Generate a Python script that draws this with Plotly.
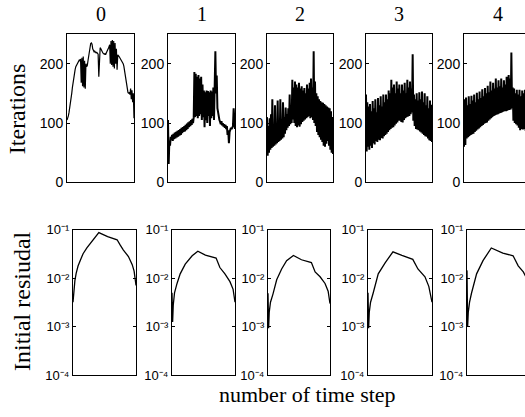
import plotly.graph_objects as go

# ---------------------------------------------------------------- data
panel_titles = ["0", "1", "2", "3", "4"]

# iterations per time step, one list per case
iter_0 = [105, 108, 112, 118, 125, 131, 140, 150, 160, 170,
          178, 185, 190, 195, 197, 200, 203, 205, 206, 205,
          208, 168, 210, 162, 212, 160, 205, 158, 200, 195,
          197, 205, 215, 225, 232, 234, 235, 233, 225, 222,
          220, 221, 220, 218, 219, 218, 216, 178, 220, 227,
          225, 222, 220, 218, 217, 216, 217, 215, 218, 220,
          222, 225, 228, 232, 200, 238, 198, 240, 195, 238,
          192, 235, 200, 225, 190, 215, 214, 212, 210, 208,
          205, 204, 203, 200, 196, 188, 180, 170, 160, 155,
          152, 150, 152, 148, 158, 140, 155, 135, 150, 108]

iter_1 = [105, 31, 70, 62, 77, 72, 80, 70, 82, 73,
          84, 74, 85, 76, 87, 77, 88, 79, 90, 80,
          92, 83, 93, 85, 95, 86, 97, 88, 99, 90,
          101, 93, 103, 95, 105, 97, 107, 100, 110, 186,
          110, 183, 112, 178, 108, 181, 112, 175, 115, 178,
          105, 165, 110, 155, 93, 152, 105, 155, 100, 154,
          112, 152, 95, 155, 108, 153, 112, 160, 105, 165,
          221, 150, 180, 125, 115, 108, 105, 102, 98, 103,
          96, 100, 94, 98, 92, 97, 90, 95, 80, 88,
          66, 85, 88, 92, 90, 93, 95, 125, 100, 90]

iter_2 = [110, 45, 95, 50, 108, 55, 115, 58, 140, 60,
          95, 62, 130, 64, 100, 66, 138, 68, 102, 70,
          140, 72, 105, 74, 135, 76, 110, 82, 126, 88,
          115, 92, 125, 95, 148, 98, 130, 100, 173, 106,
          160, 100, 170, 95, 165, 93, 160, 96, 168, 94,
          158, 98, 162, 102, 155, 104, 159, 106, 150, 108,
          165, 110, 158, 112, 168, 108, 175, 110, 160, 105,
          221, 100, 170, 95, 150, 85, 145, 80, 140, 76,
          137, 72, 135, 68, 134, 62, 132, 60, 130, 65,
          128, 70, 126, 62, 125, 55, 120, 50, 110, 48]

iter_3 = [148, 52, 135, 60, 128, 55, 132, 62, 120, 58,
          137, 66, 125, 64, 140, 70, 118, 68, 142, 72,
          130, 71, 145, 75, 128, 74, 148, 78, 135, 80,
          148, 82, 140, 85, 155, 88, 150, 90, 173, 92,
          160, 93, 165, 96, 150, 99, 170, 101, 158, 104,
          165, 104, 150, 102, 165, 101, 155, 105, 168, 108,
          150, 110, 173, 111, 160, 112, 170, 115, 158, 118,
          216, 104, 148, 95, 140, 90, 150, 89, 138, 88,
          152, 86, 140, 84, 153, 82, 135, 80, 150, 78,
          130, 77, 145, 74, 125, 71, 138, 70, 131, 68]

iter_4 = [60, 140, 63, 143, 74, 130, 76, 145, 78, 132,
          80, 146, 81, 138, 82, 148, 85, 135, 87, 151,
          89, 140, 91, 153, 93, 142, 95, 157, 97, 145,
          99, 159, 100, 150, 101, 163, 104, 152, 106, 170,
          108, 155, 110, 168, 112, 158, 113, 175, 114, 160,
          115, 172, 116, 162, 117, 175, 118, 160, 119, 172,
          120, 165, 120, 178, 121, 168, 181, 122, 175, 123,
          219, 125, 160, 104, 158, 100, 150, 98, 156, 96,
          148, 92, 156, 88, 145, 90, 155, 89, 150, 90,
          156, 87, 148, 86, 152, 85, 145, 84, 150, 85]

iterations = [iter_0, iter_1, iter_2, iter_3, iter_4]

# initial residual, sampled at selected time steps (0..100)
res_steps_0 = [0, 1, 3, 5, 8, 12, 16, 22, 28, 34, 41, 55, 70, 75, 80, 88, 94, 97, 100]
res_vals_0 = [3.2e-3, 5.0e-3, 8.9e-3, 1.26e-2, 1.78e-2, 2.4e-2, 3.2e-2, 4.2e-2, 5.2e-2,
              6.6e-2, 8.7e-2, 7.2e-2, 6.2e-2, 4.8e-2, 3.8e-2, 2.8e-2, 1.9e-2, 1.4e-2, 7.1e-3]

res_steps_1 = [0, 1, 2, 4, 8, 13, 21, 32, 41, 53, 70, 76, 84, 92, 97, 100]
res_vals_1 = [5.0e-3, 1.26e-3, 2.8e-3, 5.0e-3, 7.8e-3, 1.23e-2, 1.95e-2, 2.9e-2,
              3.6e-2, 3.0e-2, 2.6e-2, 1.66e-2, 1.23e-2, 8.5e-3, 5.9e-3, 3.2e-3]

res_steps_2 = [0, 1, 2, 4, 8, 14, 22, 30, 41, 54, 70, 76, 84, 92, 97, 100]
res_vals_2 = [4.9e-3, 9.3e-4, 2.0e-3, 3.2e-3, 4.7e-3, 9.3e-3, 1.55e-2, 2.3e-2,
              2.95e-2, 2.4e-2, 2.1e-2, 1.35e-2, 1.07e-2, 7.8e-3, 5.4e-3, 3.0e-3]

res_steps_3 = [0, 1, 2, 4, 8, 16, 27, 39, 53, 70, 78, 89, 95, 100]
res_vals_3 = [5.0e-3, 9.3e-4, 2.0e-3, 3.2e-3, 4.9e-3, 1.23e-2, 2.1e-2, 3.5e-2,
              2.95e-2, 2.45e-2, 1.55e-2, 1.07e-2, 6.8e-3, 3.2e-3]

res_steps_4 = [0, 1, 2, 4, 7, 15, 25, 38, 56, 72, 80, 88, 95, 100]
res_vals_4 = [1.45e-2, 1.0e-3, 2.0e-3, 3.2e-3, 4.9e-3, 1.23e-2, 2.3e-2, 4.2e-2,
              3.3e-2, 2.9e-2, 1.8e-2, 1.35e-2, 8.9e-3, 4.0e-3]

res_steps = [res_steps_0, res_steps_1, res_steps_2, res_steps_3, res_steps_4]
res_vals = [res_vals_0, res_vals_1, res_vals_2, res_vals_3, res_vals_4]

iter_ticks = [0, 100, 200]
res_ticks = [1e-4, 1e-3, 1e-2, 1e-1]
res_ticktext = ["10\u207b\u2074", "10\u207b\u00b3", "10\u207b\u00b2", "10\u207b\u00b9"]

# ---------------------------------------------------------------- layout
W, H = 525, 417
top_cols = [(67, 134), (168, 235), (267, 333), (366, 432), (464, 531)]
bot_cols = [(73, 136), (172, 235), (268, 330), (368, 432), (467, 531)]
top_rows = (28, 182)
bot_rows = (231, 382)

SANS = "Liberation Sans, Arial, sans-serif"
SERIF = "Liberation Serif, Times New Roman, serif"

fig = go.Figure()
layout = dict(
    width=W, height=H,
    margin=dict(l=0, r=0, t=0, b=0),
    paper_bgcolor="white", plot_bgcolor="white",
    showlegend=False,
)


def col_domain(l, r, xmax):
    # a panel running past the right edge is clipped, its axis range shrunk to match
    rr = min(r, W)
    return [l / W, rr / W], [0, xmax * (rr - l) / (r - l)]


for k in range(5):
    # top row: iterations
    ia = k + 1
    n = len(iterations[k])
    dom, rng = col_domain(*top_cols[k], n - 1)
    clipped = top_cols[k][1] > W
    layout[f"xaxis{ia}"] = dict(
        domain=dom, range=rng, anchor=f"y{ia}",
        showline=True, linecolor="black", linewidth=1, mirror=True,
        ticks="", showticklabels=False, showgrid=False, zeroline=False,
    )
    layout[f"yaxis{ia}"] = dict(
        domain=[1 - top_rows[1] / H, 1 - top_rows[0] / H], range=[0, 250],
        anchor=f"x{ia}", tickvals=iter_ticks,
        showline=True, linecolor="black", linewidth=1,
        mirror=False if clipped else "ticks",
        ticks="inside", ticklen=3, tickcolor="black",
        showgrid=False, zeroline=False,
        tickfont=dict(family=SANS, size=14, color="black"),
    )
    fig.add_trace(go.Scatter(
        x=list(range(n)), y=iterations[k], mode="lines",
        line=dict(color="black", width=1.2 if k == 0 else 2),
        xaxis=f"x{ia}", yaxis=f"y{ia}",
    ))

    # bottom row: initial residual
    ib = k + 6
    dom, rng = col_domain(*bot_cols[k], 100)
    clipped = bot_cols[k][1] > W
    layout[f"xaxis{ib}"] = dict(
        domain=dom, range=rng, anchor=f"y{ib}",
        showline=True, linecolor="black", linewidth=1, mirror=True,
        ticks="", showticklabels=False, showgrid=False, zeroline=False,
    )
    layout[f"yaxis{ib}"] = dict(
        domain=[1 - bot_rows[1] / H, 1 - bot_rows[0] / H], type="log",
        range=[-4, -1], anchor=f"x{ib}",
        tickvals=res_ticks, ticktext=res_ticktext,
        showline=True, linecolor="black", linewidth=1,
        mirror=False if clipped else "ticks",
        ticks="inside", ticklen=3, tickcolor="black",
        showgrid=False, zeroline=False,
        tickfont=dict(family=SANS, size=13, color="black"),
    )
    fig.add_trace(go.Scatter(
        x=res_steps[k], y=res_vals[k], mode="lines",
        line=dict(color="black", width=1.3),
        xaxis=f"x{ib}", yaxis=f"y{ib}",
    ))

annotations = []
for k, t in enumerate(panel_titles):
    l, r = top_cols[k]
    annotations.append(dict(
        text=t, x=(l + r) / 2 / W, y=1 - 7 / H, xref="paper", yref="paper",
        xanchor="center", yanchor="middle", showarrow=False,
        font=dict(family=SERIF, size=20, color="black"),
    ))
annotations.append(dict(
    text="Iterations", x=17 / W, y=1 - 106 / H, xref="paper", yref="paper",
    xanchor="center", yanchor="middle", textangle=-90, showarrow=False,
    font=dict(family=SERIF, size=24, color="black"),
))
annotations.append(dict(
    text="Initial resiudal", x=22 / W, y=1 - 305 / H, xref="paper", yref="paper",
    xanchor="center", yanchor="middle", textangle=-90, showarrow=False,
    font=dict(family=SERIF, size=24, color="black"),
))
annotations.append(dict(
    text="number of time step", x=307.5 / W, y=1 - 402 / H, xref="paper", yref="paper",
    xanchor="center", yanchor="middle", showarrow=False,
    font=dict(family=SERIF, size=22, color="black"),
))
layout["annotations"] = annotations

fig.update_layout(**layout)
fig.write_html("out.html")
